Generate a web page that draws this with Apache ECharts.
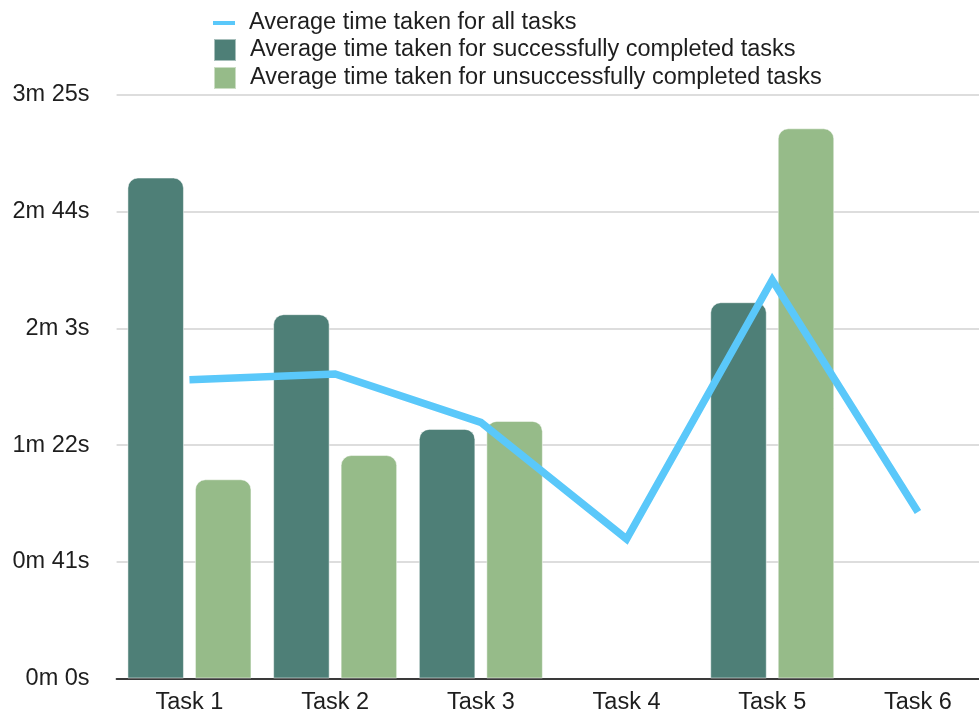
<!DOCTYPE html>
<html>
<head>
<meta charset="utf-8">
<script src="https://cdn.jsdelivr.net/npm/echarts@6/dist/echarts.min.js"></script>
<style>
  html, body { margin: 0; padding: 0; background: #fff; }
  #chart { width: 979px; height: 715px; }
</style>
</head>
<body>
<div id="chart"></div>
<script>
// Task names along the x axis
const categories = ['Task 1', 'Task 2', 'Task 3', 'Task 4', 'Task 5', 'Task 6'];

// Times in seconds
const avgAll = [105, 107, 90, 49, 140, 58.5];
const avgSuccess = [176, 128, 87.7, null, 132.2, null];
const avgFail = [70, 78.5, 90.5, null, 193.3, null];

// Y axis: one tick every 41 seconds
const yTickStep = 41;
const yTickLabels = ['0m 0s', '0m 41s', '1m 22s', '2m 3s', '2m 44s', '3m 25s'];

const seriesNames = [
  'Average time taken for all tasks',
  'Average time taken for successfully completed tasks',
  'Average time taken for unsuccessfully completed tasks'
];

const FONT = '"Liberation Sans", Arial, Helvetica, sans-serif';
const TEXT = '#1e1e1e';
const LINE_BLUE = '#5ac8fa';
const DARK = '#4e7f77';
const LIGHT = '#96bb89';

const legendText = {
  fontSize: 23.5, color: TEXT, fontFamily: FONT, lineHeight: 22, padding: [0, 0, 0, 9]
};

const chart = echarts.init(document.getElementById('chart'));

chart.setOption({
  animation: false,
  backgroundColor: '#ffffff',
  textStyle: { fontFamily: FONT },
  legend: [
    {
      data: [seriesNames[0]],
      left: 213,
      top: 11,
      padding: 0,
      itemWidth: 22,
      itemHeight: 4,
      icon: 'rect',
      textStyle: legendText,
      selectedMode: false
    },
    {
      data: [seriesNames[1], seriesNames[2]],
      orient: 'vertical',
      left: 213,
      top: 38,
      padding: 0,
      itemWidth: 22,
      itemHeight: 22,
      itemGap: 4,
      icon: 'rect',
      textStyle: legendText,
      selectedMode: false
    }
  ],
  // the plot runs a little past the right edge of the canvas
  grid: {
    left: 116.6,
    width: 874.2,
    top: 95,
    bottom: 36.5,
    containLabel: false,
    outerBoundsMode: 'none'
  },
  xAxis: {
    type: 'category',
    data: categories,
    axisTick: { show: false },
    axisLine: { lineStyle: { color: '#3a3a3a', width: 2 } },
    axisLabel: { fontSize: 23.5, color: TEXT, fontFamily: FONT, margin: 12 }
  },
  yAxis: {
    type: 'value',
    min: 0,
    max: yTickStep * (yTickLabels.length - 1),
    interval: yTickStep,
    axisLine: { show: false },
    axisTick: { show: false },
    splitLine: { lineStyle: { color: '#d2d2d2', width: 1.5 } },
    axisLabel: {
      fontSize: 23.5,
      color: TEXT,
      fontFamily: FONT,
      margin: 27,
      formatter: (v) => yTickLabels[Math.round(v / yTickStep)]
    }
  },
  series: [
    {
      name: seriesNames[1],
      type: 'bar',
      data: avgSuccess,
      barWidth: '38.8%',
      barGap: '19.4%',
      itemStyle: {
        color: DARK,
        borderRadius: [10, 10, 0, 0],
        borderColor: 'rgba(255,255,255,0.5)',
        borderWidth: 1
      },
      z: 2
    },
    {
      name: seriesNames[2],
      type: 'bar',
      data: avgFail,
      barWidth: '38.8%',
      barGap: '19.4%',
      itemStyle: {
        color: LIGHT,
        borderRadius: [10, 10, 0, 0],
        borderColor: 'rgba(255,255,255,0.5)',
        borderWidth: 1
      },
      z: 2
    },
    {
      name: seriesNames[0],
      type: 'line',
      data: avgAll,
      showSymbol: false,
      symbol: 'none',
      itemStyle: { color: LINE_BLUE },
      lineStyle: { color: LINE_BLUE, width: 7.5, join: 'miter', cap: 'butt' },
      z: 5
    }
  ]
});
</script>
</body>
</html>
